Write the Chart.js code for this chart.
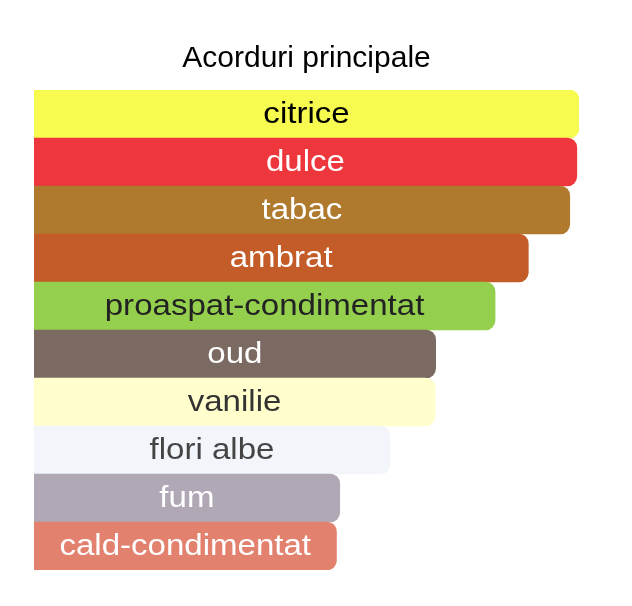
<!DOCTYPE html>
<html>
<head>
<meta charset="utf-8">
<script src="https://cdn.jsdelivr.net/npm/chart.js@4"></script>
<style>
  html, body { margin: 0; padding: 0; background: #fff; }
  #wrap { width: 632px; height: 606px; }
</style>
</head>
<body>
<div id="wrap"><canvas id="accordsChart"></canvas></div>
<script>
const accords = ['citrice', 'dulce', 'tabac', 'ambrat', 'proaspat-condimentat', 'oud', 'vanilie', 'flori albe', 'fum', 'cald-condimentat'];
const strength = [100, 99.6, 98.3, 90.7, 84.6, 73.7, 73.6, 65.3, 56.1, 55.5];
const barColors = ['#f8fb4f', '#ee363d', '#af7a2d', '#c35c28', '#94d04e', '#7b6a61', '#fffecc', '#f2f5fa', '#b0a8b4', '#e2826e'];
const labelColors = ['#000000', '#ffffff', '#ffffff', '#ffffff', '#222222', '#ffffff', '#333333', '#444444', '#ffffff', '#ffffff'];

// draws the accord name in the middle of each bar (the original font runs a bit wide)
const barNames = {
  id: 'barNames',
  afterDatasetsDraw(chart) {
    const ctx = chart.ctx;
    const meta = chart.getDatasetMeta(0);
    meta.data.forEach((bar, i) => {
      const p = bar.getProps(['x', 'y', 'base'], true);
      ctx.save();
      ctx.translate((p.x + p.base) / 2, p.y + 1);
      ctx.scale(1.12, 1);
      ctx.font = '29.5px "Liberation Sans", Arial, sans-serif';
      ctx.textAlign = 'center';
      ctx.textBaseline = 'middle';
      ctx.fillStyle = labelColors[i];
      ctx.fillText(accords[i], 0, 0);
      ctx.restore();
    });
  }
};

const ctx = document.getElementById('accordsChart').getContext('2d');
new Chart(ctx, {
  type: 'bar',
  data: {
    labels: accords,
    datasets: [{
      data: strength,
      backgroundColor: barColors,
      borderRadius: 10,
      borderSkipped: 'start',
      barPercentage: 1,
      categoryPercentage: 1
    }]
  },
  options: {
    indexAxis: 'y',
    responsive: true,
    maintainAspectRatio: false,
    animation: false,
    layout: {padding: {left: 34, right: 53, top: 0, bottom: 36}},
    plugins: {
      legend: {display: false},
      tooltip: {enabled: false},
      title: {
        display: true,
        text: 'Acorduri principale',
        color: '#000',
        font: {family: '"Liberation Sans", Arial, sans-serif', size: 30, weight: 'normal', lineHeight: 1.2},
        padding: {top: 41, bottom: 13}
      }
    },
    scales: {
      x: {display: false, min: 0, max: 100},
      y: {display: false}
    }
  },
  plugins: [barNames]
});
</script>
</body>
</html>
